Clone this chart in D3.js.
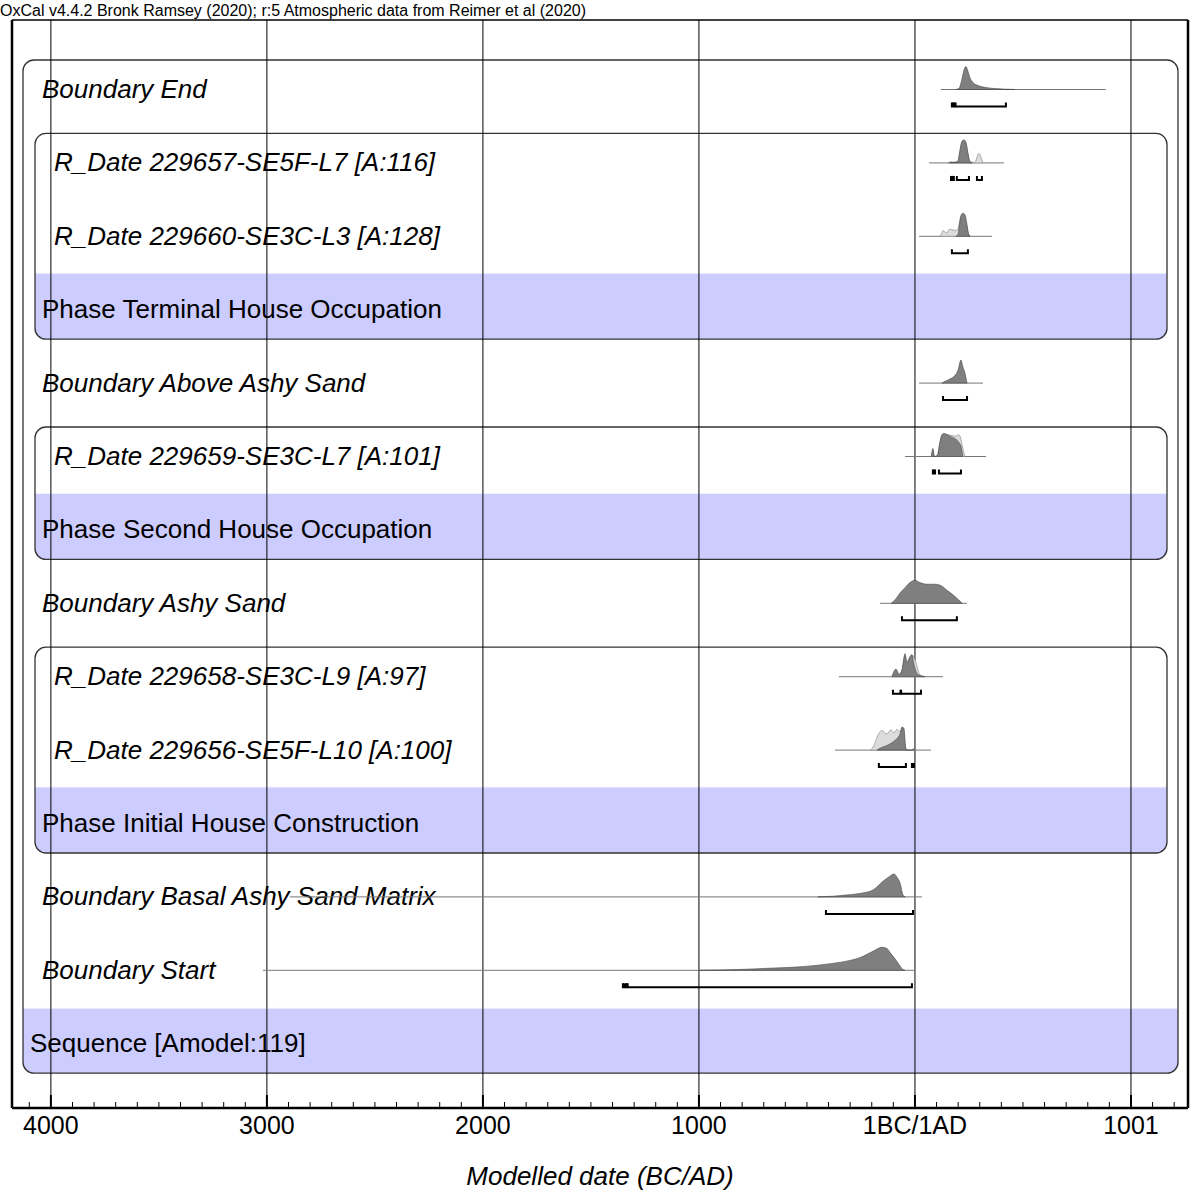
<!DOCTYPE html>
<html>
<head>
<meta charset="utf-8">
<script src="https://cdn.jsdelivr.net/npm/d3@7"></script>
<style>
  body { margin: 0; background: #fff; }
  text { font-family: "Liberation Sans", Arial, sans-serif; }
</style>
</head>
<body>
<div id="chart"></div>
<script>
// Row labels, top to bottom
var labels = [
  "Boundary End",
  "R_Date 229657-SE5F-L7 [A:116]",
  "R_Date 229660-SE3C-L3 [A:128]",
  "Phase Terminal House Occupation",
  "Boundary Above Ashy Sand",
  "R_Date 229659-SE3C-L7 [A:101]",
  "Phase Second House Occupation",
  "Boundary Ashy Sand",
  "R_Date 229658-SE3C-L9 [A:97]",
  "R_Date 229656-SE5F-L10 [A:100]",
  "Phase Initial House Construction",
  "Boundary Basal Ashy Sand Matrix",
  "Boundary Start",
  "Sequence [Amodel:119]"
];
var kinds = ["boundary", "date", "date", "phase", "boundary", "date", "phase",
             "boundary", "date", "date", "phase", "boundary", "boundary", "sequence"];

// phases: [first row inside, label row]
var phases = [[1, 3], [5, 6], [8, 10]];

// axis ticks (years, BC negative)
var tickYears = [-4000, -3000, -2000, -1000, 0, 1000];
var tickLabels = ["4000", "3000", "2000", "1000", "1BC/1AD", "1001"];

// extent of the thin line under each distribution (row index -> [from, to])
var spans = {
  0: [120, 884], 1: [65, 412], 2: [19, 356], 4: [19, 315], 5: [-46, 329],
  7: [-162, 241], 8: [-352, 130], 9: [-370, 74], 11: [-2894, 32], 12: [-3018, 0]
};

// posterior distributions [year, relative probability]
var postEnd = [[190,0],[204,0.05],[215,0.35],[227,0.85],[236,1],[245,0.8],[255,0.5],[269,0.3],[292,0.17],[333,0.08],[370,0.04],[417,0.015],[463,0]];
var post229657 = [[160,0],[171,0.03],[180,0.02],[199,0.05],[208,0.5],[218,0.95],[227,1],[236,0.9],[245,0.45],[255,0.05],[265,0]];
var post229660 = [[190,0],[200,0.1],[206,0.5],[213,0.9],[222,1],[231,0.95],[241,0.5],[248,0.1],[255,0]];
var postAboveAshy = [[125,0],[140,0.08],[162,0.18],[185,0.33],[199,0.55],[213,1],[222,0.7],[231,0.45],[241,0]];
var post229659 = [[75,0],[80,0.2],[83,0.35],[87,0.1],[92,0],[100,0.02],[106,0.1],[115,0.6],[125,0.95],[134,1],[150,0.95],[162,0.88],[176,0.82],[190,0.75],[204,0.6],[213,0.45],[222,0]];
var postAshy = [[-110,0],[-92,0.15],[-69,0.45],[-46,0.68],[-23,0.9],[0,1],[23,0.9],[56,0.83],[93,0.83],[116,0.79],[153,0.53],[185,0.3],[218,0]];
var post229658 = [[-106,0],[-88,0.33],[-74,0.1],[-60,0.3],[-46,1],[-37,0.6],[-28,0.75],[-14,0.95],[-5,0.55],[9,0.15],[23,0.05],[46,0]];
var post229656 = [[-176,0],[-162,0.08],[-130,0.2],[-102,0.35],[-83,0.5],[-69,0.7],[-60,1],[-51,0.95],[-42,0],[-15,0],[-9,0.06],[-4,0]];
var postBasal = [[-450,0],[-380,0.03],[-320,0.08],[-255,0.15],[-194,0.3],[-148,0.68],[-116,0.9],[-97,1],[-83,0.85],[-69,0.6],[-55,0.08],[-45,0]];
var postStart = [[-1000,0],[-800,0.04],[-650,0.1],[-532,0.15],[-450,0.22],[-380,0.3],[-300,0.43],[-255,0.55],[-194,0.83],[-153,1],[-130,0.95],[-116,0.78],[-83,0.38],[-55,0.03],[-46,0]];

// unmodelled likelihoods of the dates
var like229657 = [[150,0],[165,0.05],[175,0.03],[190,0.05],[199,0.1],[208,0.55],[218,0.9],[227,0.95],[236,0.85],[245,0.35],[255,0.05],[270,0.02],[282,0.1],[292,0.38],[298,0.4],[305,0.25],[315,0]];
var like229660 = [[110,0],[120,0.05],[130,0.25],[140,0.18],[148,0.15],[156,0.28],[165,0.3],[176,0.28],[190,0.25],[200,0.35],[206,0.6],[213,0.85],[222,0.9],[231,0.8],[241,0.4],[250,0.05],[260,0]];
var like229659 = [[75,0],[83,0.3],[90,0],[104,0.05],[115,0.55],[125,0.9],[134,0.95],[150,0.95],[162,0.93],[176,0.9],[190,0.88],[200,0.95],[208,0.9],[218,0.5],[231,0]];
var like229658 = [[-115,0],[-100,0.1],[-88,0.3],[-74,0.1],[-60,0.28],[-46,0.9],[-37,0.6],[-28,0.8],[-14,0.95],[-5,0.85],[5,0.6],[14,0.3],[23,0.08],[40,0.02],[50,0]];
var like229656 = [[-205,0],[-190,0.2],[-176,0.55],[-153,0.85],[-130,0.7],[-111,0.88],[-97,0.75],[-83,0.9],[-69,0.8],[-60,0.95],[-51,0.7],[-42,0.1],[-30,0]];

// 95.4% ranges
var rangesEnd = [[171,183],[188,421]];
var ranges229657 = [[167,180],[194,250],[287,310]];
var ranges229660 = [[171,245]];
var rangesAboveAshy = [[130,241]];
var ranges229659 = [[83,93],[111,213]];
var rangesAshy = [[-60,194]];
var ranges229658 = [[-102,-67],[-64,28]];
var ranges229656 = [[-167,-42],[-14,-5]];
var rangesBasal = [[-412,-9]];
var rangesStart = [[-1352,-1335],[-1330,-14]];

var posteriors = {0: postEnd, 1: post229657, 2: post229660, 4: postAboveAshy, 5: post229659,
  7: postAshy, 8: post229658, 9: post229656, 11: postBasal, 12: postStart};
var likelihoods = {1: like229657, 2: like229660, 5: like229659, 8: like229658, 9: like229656};
var ranges = {0: rangesEnd, 1: ranges229657, 2: ranges229660, 4: rangesAboveAshy, 5: ranges229659,
  7: rangesAshy, 8: ranges229658, 9: ranges229656, 11: rangesBasal, 12: rangesStart};

var W = 1192, H = 1191;
var plot = { left: 12, right: 1188, top: 20, bottom: 1108 };

var svg = d3.select("#chart").append("svg")
  .attr("width", W)
  .attr("height", H);

var x = d3.scaleLinear().domain([-4180, 1264]).range([plot.left, plot.right]);
var rowY = d3.scaleLinear().domain([0, 13]).range([89, 89 + 73.4 * 13]);
var h = d3.scaleLinear().domain([0, 1]).range([0, 23]);

// title
svg.append("text")
  .attr("x", 0)
  .attr("y", 16)
  .style("font-size", "16px")
  .text("OxCal v4.4.2 Bronk Ramsey (2020); r:5 Atmospheric data from Reimer et al (2020)");

// boxes for sequence and phases
var boxes = svg.append("g");
function roundedBox(x0, x1, y0, y1, bandTop) {
  var r = 11;
  var clipId = "clip" + Math.round(y0);
  svg.append("clipPath").attr("id", clipId)
    .append("rect").attr("x", x0).attr("y", y0).attr("width", x1 - x0).attr("height", y1 - y0)
    .attr("rx", r).attr("ry", r);
  boxes.append("rect")
    .attr("x", x0).attr("y", bandTop).attr("width", x1 - x0).attr("height", y1 - bandTop)
    .attr("clip-path", "url(#" + clipId + ")")
    .style("fill", "#ccccff");
  boxes.append("line")
    .attr("x1", x0).attr("x2", x1).attr("y1", bandTop).attr("y2", bandTop)
    .attr("clip-path", "url(#" + clipId + ")")
    .style("stroke", "#f4f4ff").style("stroke-width", 1);
  boxes.append("rect")
    .attr("x", x0).attr("y", y0).attr("width", x1 - x0).attr("height", y1 - y0)
    .attr("rx", r).attr("ry", r)
    .style("fill", "none")
    .style("stroke", "#333")
    .style("stroke-width", 1.3);
}
roundedBox(23, 1178, rowY(0) - 29, rowY(13) + 30, rowY(13) - 35);
phases.forEach(function (p) {
  roundedBox(35, 1167, rowY(p[0]) - 29, rowY(p[1]) + 30, rowY(p[1]) - 36);
});

// vertical grid lines
svg.append("g").selectAll("line")
  .data(tickYears)
  .enter().append("line")
  .attr("x1", function (d) { return x(d); })
  .attr("x2", function (d) { return x(d); })
  .attr("y1", plot.top)
  .attr("y2", plot.bottom)
  .style("stroke", "#000")
  .style("stroke-width", 1);

// row labels
svg.append("g").selectAll("text")
  .data(labels)
  .enter().append("text")
  .attr("x", function (d, i) {
    if (kinds[i] === "sequence") return 30;
    if (kinds[i] === "date") return 54;
    return 42;
  })
  .attr("y", function (d, i) { return rowY(i) + 9; })
  .style("font-size", "26px")
  .style("font-style", function (d, i) {
    return (kinds[i] === "boundary" || kinds[i] === "date") ? "italic" : "normal";
  })
  .style("fill", "#000")
  .text(function (d) { return d; });

// distributions
var dist = svg.append("g");
Object.keys(spans).forEach(function (k) {
  var i = +k;
  var base = rowY(i) + 0.5;
  var area = d3.area()
    .x(function (d) { return x(d[0]); })
    .y0(base)
    .y1(function (d) { return base - h(d[1]); })
    .curve(d3.curveMonotoneX);

  dist.append("line")
    .attr("x1", x(spans[i][0])).attr("x2", x(spans[i][1]))
    .attr("y1", base).attr("y2", base)
    .style("stroke", "#777")
    .style("stroke-width", 1);

  if (likelihoods[i]) {
    dist.append("path")
      .attr("d", area(likelihoods[i]))
      .style("fill", "#dcdcdc")
      .style("stroke", "#999")
      .style("stroke-width", 0.8);
  }
  dist.append("path")
    .attr("d", area(posteriors[i]))
    .style("fill", "#7f7f7f")
    .style("stroke", "#444")
    .style("stroke-width", 0.6);

  // range brackets
  var by = base + 17;
  ranges[i].forEach(function (r) {
    var x0 = x(r[0]), x1 = x(r[1]);
    dist.append("path")
      .attr("d", "M" + x0 + "," + (by - 4) + "V" + by + "H" + x1 + "V" + (by - 4))
      .style("fill", x1 - x0 < 4 ? "#000" : "none")
      .style("stroke", "#000")
      .style("stroke-width", 2);
  });
});

// frame
svg.append("line")
  .attr("x1", plot.left).attr("x2", plot.right)
  .attr("y1", plot.top).attr("y2", plot.top)
  .style("stroke", "#000").style("stroke-width", 1.5);
svg.append("line")
  .attr("x1", plot.left).attr("x2", plot.left)
  .attr("y1", plot.top).attr("y2", plot.bottom)
  .style("stroke", "#000").style("stroke-width", 2.5);
svg.append("line")
  .attr("x1", plot.right).attr("x2", plot.right)
  .attr("y1", plot.top).attr("y2", plot.bottom)
  .style("stroke", "#000").style("stroke-width", 2.5);

// bottom axis
var minor = d3.range(-4100, 1264, 100).filter(function (d) { return d % 1000 !== 0; });
var axis = svg.append("g").attr("transform", "translate(0," + plot.bottom + ")");
axis.append("line")
  .attr("x1", plot.left).attr("x2", plot.right)
  .style("stroke", "#000").style("stroke-width", 2.5);
axis.selectAll(".minor")
  .data(minor)
  .enter().append("line")
  .attr("x1", function (d) { return x(d); })
  .attr("x2", function (d) { return x(d); })
  .attr("y1", 0).attr("y2", -6)
  .style("stroke", "#000").style("stroke-width", 1);
axis.selectAll(".major")
  .data(tickYears)
  .enter().append("line")
  .attr("x1", function (d) { return x(d); })
  .attr("x2", function (d) { return x(d); })
  .attr("y1", 0).attr("y2", -13)
  .style("stroke", "#000").style("stroke-width", 2);
axis.selectAll("text")
  .data(tickYears)
  .enter().append("text")
  .attr("x", function (d) { return x(d); })
  .attr("y", 26)
  .attr("text-anchor", "middle")
  .style("font-size", "25px")
  .text(function (d, i) { return tickLabels[i]; });

// axis title
svg.append("text")
  .attr("x", 600)
  .attr("y", 1185)
  .attr("text-anchor", "middle")
  .style("font-size", "26px")
  .style("font-style", "italic")
  .text("Modelled date (BC/AD)");
</script>
</body>
</html>
